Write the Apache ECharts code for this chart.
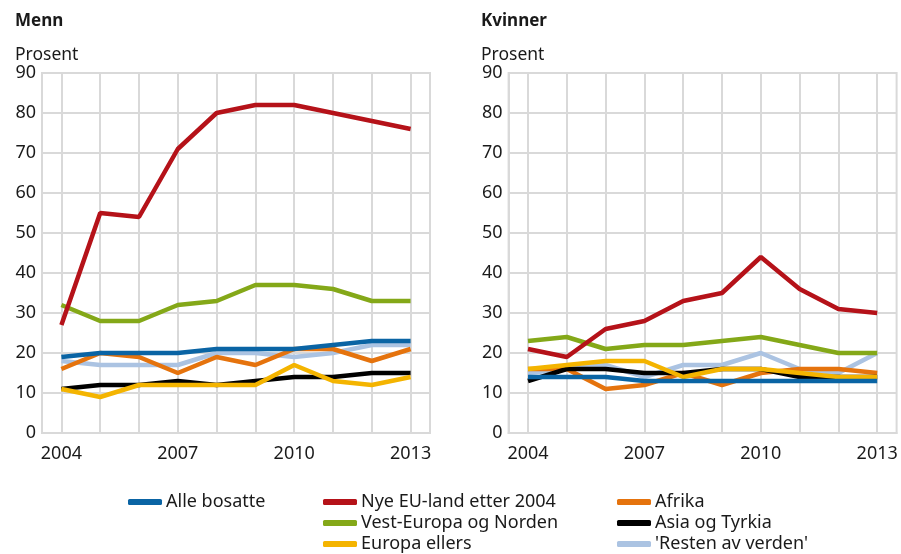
<!DOCTYPE html>
<html><head><meta charset="utf-8">
<script src="https://cdn.jsdelivr.net/npm/echarts@6/dist/echarts.min.js"></script>
<style>html,body{margin:0;padding:0;background:#fff}#c{width:901px;height:554px}</style>
</head><body><div id="c"></div>
<script>
const years = [2004,2005,2006,2007,2008,2009,2010,2011,2012,2013];
const xTickLabels = [2004,2007,2010,2013];

// Menn
const mennAlle   = [19,20,20,20,21,21,21,22,23,23];
const mennNyeEU  = [27,55,54,71,80,82,82,80,78,76];
const mennAfrika = [16,20,19,15,19,17,21,21,18,21];
const mennVest   = [32,28,28,32,33,37,37,36,33,33];
const mennAsia   = [11,12,12,13,12,13,14,14,15,15];
const mennEuropa = [11,9,12,12,12,12,17,13,12,14];
const mennResten = [18,17,17,17,20,20,19,20,22,22];

// Kvinner
const kvAlle   = [14,14,14,13,13,13,13,13,13,13];
const kvNyeEU  = [21,19,26,28,33,35,44,36,31,30];
const kvAfrika = [16,16,11,12,15,12,15,16,16,15];
const kvVest   = [23,24,21,22,22,23,24,22,20,20];
const kvAsia   = [13,16,16,15,15,16,16,14,14,14];
const kvEuropa = [16,17,18,18,14,16,16,15,14,14];
const kvResten = [15,16,17,14,17,17,20,16,15,20];

const names = {
  alle:'Alle bosatte', nye:'Nye EU-land etter 2004', afr:'Afrika',
  vest:'Vest-Europa og Norden', asia:'Asia og Tyrkia', eur:'Europa ellers', rest:"'Resten av verden'"
};
const colors = {
  alle:'#0a64a4', nye:'#b51219', afr:'#e5730d', vest:'#84a818', asia:'#000000', eur:'#f4b400', rest:'#abc3e2'
};

const FONT = 'Noto Sans';
const TXT = '#1a1a1a';
const GRIDC = '#d9d9d9';

function pairs(arr){ return years.map((y,i)=>[y,arr[i]]); }

const sets = [
  {alle:mennAlle,nye:mennNyeEU,afr:mennAfrika,vest:mennVest,asia:mennAsia,eur:mennEuropa,rest:mennResten},
  {alle:kvAlle,nye:kvNyeEU,afr:kvAfrika,vest:kvVest,asia:kvAsia,eur:kvEuropa,rest:kvResten}
];
const drawOrder = ['rest','vest','nye','afr','asia','eur','alle'];

const series = [];
sets.forEach((s,gi)=>{
  drawOrder.forEach(k=>{
    series.push({
      type:'line', name:names[k], xAxisIndex:gi, yAxisIndex:gi,
      data:pairs(s[k]), showSymbol:false, symbol:'none',
      lineStyle:{color:colors[k], width:4.5}, itemStyle:{color:colors[k]},
      emphasis:{disabled:true}, animation:false
    });
  });
});

function xAxis(gi){
  return {type:'value', gridIndex:gi, min:2003.5, max:2013.5,
    axisLine:{show:true, lineStyle:{color:GRIDC, width:2}},
    axisTick:{show:false, customValues:years},
    axisLabel:{customValues:xTickLabels, formatter:v=>String(v), fontFamily:FONT, fontSize:18, color:TXT, margin:12},
    splitLine:{show:true, lineStyle:{color:GRIDC, width:2}}};
}
function yAxis(gi){
  return {type:'value', gridIndex:gi, min:0, max:90, interval:10,
    axisLine:{show:true, lineStyle:{color:GRIDC, width:2}},
    axisTick:{show:false},
    axisLabel:{fontFamily:FONT, fontSize:18, color:TXT, margin:6},
    splitLine:{show:true, lineStyle:{color:GRIDC, width:2}}};
}

function leg(key, left, centerY){
  return {orient:'horizontal', left:left, top:centerY-7, itemWidth:34, itemHeight:6, icon:'roundRect',
    padding:0, textStyle:{fontFamily:FONT, fontSize:18, color:TXT, padding:[0,0,0,-1]},
    selectedMode:false, data:[names[key]]};
}

const option = {
  animation:false,
  title:[
    {text:'Menn', left:10, top:8, textStyle:{fontFamily:FONT, fontSize:17, fontWeight:'bold', color:TXT}},
    {text:'Prosent', left:10, top:41, textStyle:{fontFamily:FONT, fontSize:17.5, fontWeight:'normal', color:TXT}},
    {text:'Kvinner', left:476, top:8, textStyle:{fontFamily:FONT, fontSize:17, fontWeight:'bold', color:TXT}},
    {text:'Prosent', left:476, top:41, textStyle:{fontFamily:FONT, fontSize:17.5, fontWeight:'normal', color:TXT}}
  ],
  grid:[
    {left:42, top:73, width:388, height:360, show:true, borderColor:GRIDC, borderWidth:2},
    {left:508.6, top:73, width:388, height:360, show:true, borderColor:GRIDC, borderWidth:2}
  ],
  xAxis:[xAxis(0), xAxis(1)],
  yAxis:[yAxis(0), yAxis(1)],
  legend:[
    leg('alle', 128, 500),
    leg('nye', 323, 500),
    leg('vest', 323, 521),
    leg('eur', 323, 542),
    leg('afr', 617, 500),
    leg('asia', 617, 521),
    leg('rest', 617, 542)
  ],
  series:series
};
const chart = echarts.init(document.getElementById('c'), null, {renderer:'canvas'});
chart.setOption(option);
</script>
</body></html>
